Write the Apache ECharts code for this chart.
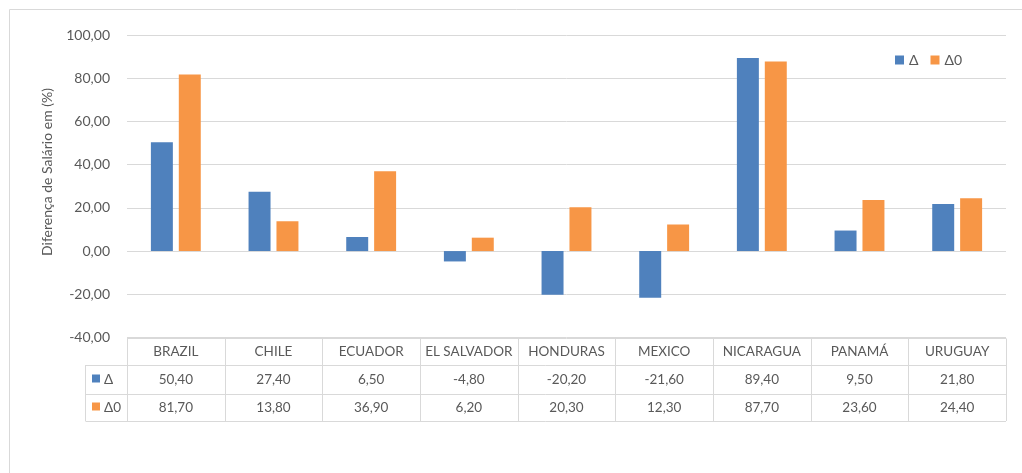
<!DOCTYPE html>
<html style="height:100%;width:100%;">
<head>
  <meta charset="utf-8">
  <title>Diferença de Salário</title>
  <script src="https://cdn.jsdelivr.net/npm/echarts@6/dist/echarts.min.js"></script>
</head>
<body style="margin:0px;height:100%;width:100%;background:#fff;">
  <div id="main" style="width:1022px;height:473px"></div>
  <script type="text/javascript">
    // dados
    var paises = ['BRAZIL', 'CHILE', 'ECUADOR', 'EL SALVADOR', 'HONDURAS', 'MEXICO', 'NICARAGUA', 'PANAMÁ', 'URUGUAY'];
    var delta = [50.4, 27.4, 6.5, -4.8, -20.2, -21.6, 89.4, 9.5, 21.8];
    var delta0 = [81.7, 13.8, 36.9, 6.2, 20.3, 12.3, 87.7, 23.6, 24.4];
    var nomes = ['Δ', 'Δ0'];
    var cores = ['#4F81BD', '#F79646'];

    var fonte = 'Lato, "Noto Sans", sans-serif';
    var cinza = '#595959';
    var linha = '#d9d9d9';

    function fmt(v) {
      return v.toFixed(2).replace('.', ',');
    }

    var myChart = echarts.init(document.getElementById('main'));

    var option = {
      animation: false,
      textStyle: { fontFamily: fonte },
      legend: {
        left: 890,
        top: 48,
        icon: 'rect',
        itemWidth: 9,
        itemHeight: 9,
        itemGap: 12,
        textStyle: { color: cinza, fontSize: 14, fontFamily: fonte },
        data: nomes
      },
      grid: { left: 127, right: 16, top: 35, bottom: 135.5, containLabel: false },
      xAxis: {
        type: 'category',
        data: paises,
        axisLine: { show: false },
        axisTick: { show: false },
        axisLabel: { show: false }
      },
      yAxis: {
        type: 'value',
        min: -40,
        max: 100,
        interval: 20,
        axisLine: { show: false },
        axisTick: { show: false },
        axisLabel: {
          color: cinza, fontSize: 14, fontFamily: fonte, margin: 17,
          formatter: function (v) { return fmt(v); }
        },
        splitLine: { lineStyle: { color: linha, width: 1 } }
      },
      series: [
        { name: nomes[0], type: 'bar', data: delta, barWidth: '22.5%', barGap: '27%', itemStyle: { color: cores[0] } },
        { name: nomes[1], type: 'bar', data: delta0, barWidth: '22.5%', barGap: '27%', itemStyle: { color: cores[1] } }
      ]
    };
    myChart.setOption(option);

    // tabela de dados abaixo do gráfico
    var centros = paises.map(function (p, i) {
      return myChart.convertToPixel({ xAxisIndex: 0 }, i);
    });
    var larg = centros[1] - centros[0];
    var x0 = centros[0] - larg / 2;
    var x1 = centros[centros.length - 1] + larg / 2;
    var y0 = Math.round(myChart.convertToPixel({ yAxisIndex: 0 }, -40)) + 0.5;
    var alturas = [26.5, 28.5, 27.5];
    var ys = [y0, y0 + alturas[0], y0 + alturas[0] + alturas[1], y0 + alturas[0] + alturas[1] + alturas[2]];
    var xCab = 85.5;

    var g = [];
    var estilo = { stroke: linha, lineWidth: 1 };
    // moldura externa
    g.push({ type: 'rect', shape: { x: 9.5, y: 9.5, width: 1100, height: 600 }, style: { fill: 'none', stroke: linha, lineWidth: 1 }, silent: true });
    // linhas horizontais
    g.push({ type: 'line', shape: { x1: x0, y1: ys[0], x2: x1, y2: ys[0] }, style: estilo });
    for (var r = 1; r < ys.length; r++) {
      g.push({ type: 'line', shape: { x1: xCab, y1: Math.round(ys[r]) + 0.5, x2: x1, y2: Math.round(ys[r]) + 0.5 }, style: estilo });
    }
    // linhas verticais
    g.push({ type: 'line', shape: { x1: xCab, y1: ys[1], x2: xCab, y2: ys[3] }, style: estilo });
    for (var i = 0; i <= paises.length; i++) {
      var xx = Math.round(x0 + i * larg) + 0.5;
      g.push({ type: 'line', shape: { x1: xx, y1: ys[0], x2: xx, y2: ys[3] }, style: estilo });
    }
    // textos
    var txt = function (x, y, s, align) {
      return { type: 'text', x: x, y: y, style: { text: s, fill: cinza, font: '13.5px ' + fonte, textAlign: align || 'center', textVerticalAlign: 'middle' } };
    };
    var linhas = [delta, delta0];
    paises.forEach(function (p, i) {
      g.push(txt(centros[i], (ys[0] + ys[1]) / 2, p));
      for (var k = 0; k < 2; k++) {
        g.push(txt(centros[i], (ys[k + 1] + ys[k + 2]) / 2, fmt(linhas[k][i])));
      }
    });
    for (var k = 0; k < 2; k++) {
      var ym = (ys[k + 1] + ys[k + 2]) / 2;
      g.push({ type: 'rect', shape: { x: 92, y: Math.round(ym) - 4.5, width: 8, height: 8 }, style: { fill: cores[k] } });
      g.push(txt(104, ym, nomes[k], 'left'));
    }
    // título do eixo
    g.push({
      type: 'text', x: 47, y: 172, rotation: Math.PI / 2,
      style: { text: 'Diferença de Salário em (%)', fill: cinza, font: '14px ' + fonte, textAlign: 'center', textVerticalAlign: 'middle' }
    });

    myChart.setOption({ graphic: g });
  </script>
</body>
</html>
